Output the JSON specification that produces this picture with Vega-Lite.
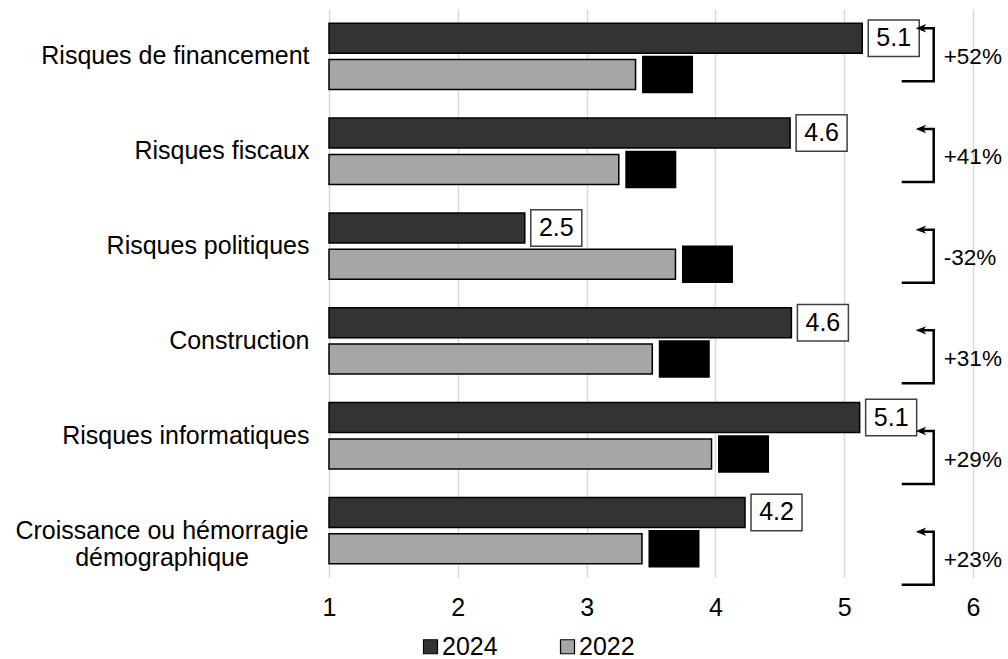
{
  "$schema": "https://vega.github.io/schema/vega-lite/v6.json",
  "autosize": {"type": "none"},
  "padding": {"left": 329, "top": 9, "right": 35, "bottom": 81},
  "width": 644,
  "height": 569,
  "background": "white",
  "datasets": {
    "bars": [
      {"cat": "Risques de financement", "year": "2024", "value": 5.14},
      {"cat": "Risques de financement", "year": "2022", "value": 3.38},
      {"cat": "Risques fiscaux", "year": "2024", "value": 4.58},
      {"cat": "Risques fiscaux", "year": "2022", "value": 3.25},
      {"cat": "Risques politiques", "year": "2024", "value": 2.52},
      {"cat": "Risques politiques", "year": "2022", "value": 3.69},
      {"cat": "Construction", "year": "2024", "value": 4.59},
      {"cat": "Construction", "year": "2022", "value": 3.51},
      {"cat": "Risques informatiques", "year": "2024", "value": 5.12},
      {"cat": "Risques informatiques", "year": "2022", "value": 3.97},
      {"cat": "Croissance ou hémorragie démographique", "year": "2024", "value": 4.23},
      {"cat": "Croissance ou hémorragie démographique", "year": "2022", "value": 3.43}
    ],
    "changes": [
      {"cat": "Risques de financement", "change": "+52%"},
      {"cat": "Risques fiscaux", "change": "+41%"},
      {"cat": "Risques politiques", "change": "-32%"},
      {"cat": "Construction", "change": "+31%"},
      {"cat": "Risques informatiques", "change": "+29%"},
      {"cat": "Croissance ou hémorragie démographique", "change": "+23%"}
    ]
  },
  "config": {
    "view": {"stroke": null},
    "font": "Liberation Sans",
    "axis": {
      "labelFont": "Liberation Sans",
      "labelColor": "#000000",
      "labelFontSize": 25,
      "domain": false,
      "ticks": false,
      "tickSize": 0
    },
    "legend": {
      "labelFont": "Liberation Sans",
      "labelColor": "#000000"
    }
  },
  "layer": [
    {
      "data": {"name": "bars"},
      "encoding": {
        "y": {
          "field": "cat",
          "type": "nominal",
          "sort": null,
          "scale": {"paddingInner": 0.3, "paddingOuter": 0.15},
          "axis": {
            "title": null,
            "grid": false,
            "labelPadding": {"condition": {"test": "datum.value == 'Croissance ou hémorragie démographique'", "value": 167.5}, "value": 20},
            "labelAlign": {"condition": {"test": "datum.value == 'Croissance ou hémorragie démographique'", "value": "center"}, "value": "right"},
            "labelLimit": 400,
            "labelLineHeight": 27,
            "labelExpr": "datum.value == 'Croissance ou hémorragie démographique' ? ['Croissance ou hémorragie', 'démographique'] : datum.value"
          }
        },
        "yOffset": {
          "field": "year",
          "type": "nominal",
          "sort": ["2024", "2022"],
          "scale": {"paddingInner": 0.176, "paddingOuter": 0}
        },
        "x": {
          "field": "value",
          "type": "quantitative",
          "scale": {"domain": [1, 6], "nice": false, "zero": false},
          "axis": {
            "title": null,
            "values": [1, 2, 3, 4, 5, 6],
            "format": "d",
            "grid": true,
            "gridColor": "#d9d9d9",
            "gridWidth": 1.5,
            "labelPadding": 17,
            "labelFlush": false
          }
        }
      },
      "layer": [
        {
          "mark": {"type": "bar", "stroke": "#000000", "strokeWidth": 1.5},
          "encoding": {
            "x2": {"datum": 1},
            "color": {
              "field": "year",
              "type": "nominal",
              "scale": {"domain": ["2024", "2022"], "range": ["#333333", "#a6a6a6"]},
              "legend": {
                "title": null,
                "orient": "none",
                "direction": "horizontal",
                "legendX": 89,
                "legendY": 625,
                "padding": 0,
                "symbolType": "square",
                "symbolSize": 196,
                "symbolStrokeColor": "#000000",
                "symbolStrokeWidth": 1.2,
                "labelFontSize": 25,
                "labelOffset": -1,
                "columnPadding": 57
              }
            }
          }
        },
        {
          "transform": [{"filter": "datum.year == '2024'"}],
          "mark": {
            "type": "point",
            "shape": "M-25.5,-18.25L25.5,-18.25L25.5,18.25L-25.5,18.25Z",
            "size": 4,
            "filled": true,
            "fill": "#ffffff",
            "stroke": "#404040",
            "strokeWidth": 1.5,
            "opacity": 1,
            "xOffset": 31.5
          }
        },
        {
          "transform": [{"filter": "datum.year == '2024'"}],
          "mark": {
            "type": "text",
            "dx": 31.5,
            "fontSize": 25,
            "font": "Liberation Sans",
            "align": "center",
            "baseline": "middle",
            "color": "#000000"
          },
          "encoding": {
            "text": {"field": "value", "type": "quantitative", "format": ".1f"}
          }
        },
        {
          "transform": [{"filter": "datum.year == '2022'"}],
          "mark": {
            "type": "point",
            "shape": "M-25.5,-18.75L25.5,-18.75L25.5,18.75L-25.5,18.75Z",
            "size": 4,
            "filled": true,
            "fill": "#000000",
            "stroke": null,
            "opacity": 1,
            "xOffset": 32
          }
        }
      ]
    },
    {
      "data": {"name": "changes"},
      "encoding": {
        "y": {
          "field": "cat",
          "type": "nominal",
          "sort": null,
          "scale": {"type": "point", "padding": 0.325},
          "axis": null
        },
        "x": {"datum": 5.695, "type": "quantitative", "scale": {"domain": [1, 6], "nice": false, "zero": false}}
      },
      "layer": [
        {
          "mark": {
            "type": "point",
            "shape": "M-32,26.5L0,26.5L0,-26.5L-13,-26.5",
            "size": 4,
            "filled": false,
            "stroke": "#000000",
            "strokeWidth": 2.5,
            "strokeJoin": "miter",
            "strokeCap": "butt",
            "opacity": 1,
            "yOffset": 13
          }
        },
        {
          "mark": {
            "type": "point",
            "shape": "M-18,-26.5L-7.5,-30.7L-10.5,-26.5L-7.5,-22.3Z",
            "size": 4,
            "filled": true,
            "fill": "#000000",
            "stroke": null,
            "opacity": 1,
            "yOffset": 13
          }
        },
        {
          "mark": {
            "type": "text",
            "align": "left",
            "baseline": "middle",
            "dx": 10,
            "fontSize": 22.5,
            "font": "Liberation Sans",
            "color": "#000000",
            "yOffset": 15
          },
          "encoding": {"text": {"field": "change", "type": "nominal"}}
        }
      ]
    }
  ],
  "resolve": {"scale": {"y": "independent"}}
}
